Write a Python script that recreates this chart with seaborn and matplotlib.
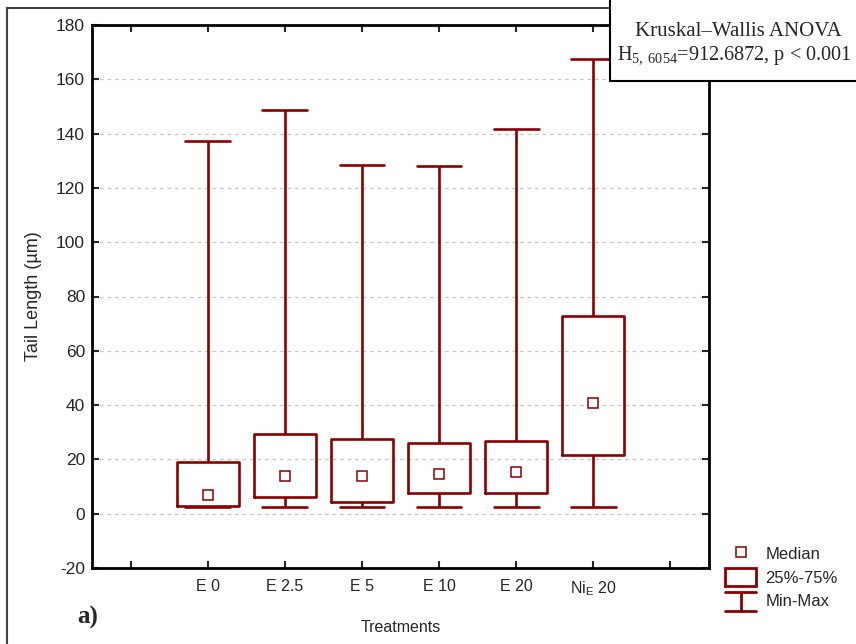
import numpy as np
import pandas as pd
import seaborn as sns
import matplotlib.pyplot as plt
from matplotlib.patches import Rectangle
from matplotlib.lines import Line2D
from matplotlib.legend_handler import HandlerBase

# summary values (min, q1, median, q3, max)
groups = ["E 0", "E 2.5", "E 5", "E 10", "E 20", "Ni$_\\mathregular{E}$ 20"]
mins = [2.5, 2.5, 2.5, 2.5, 2.5, 2.5]
q1 = [2.7, 6.0, 4.2, 7.8, 7.8, 21.5]
medians = [7.0, 14.0, 14.0, 14.6, 15.5, 40.8]
q3 = [19.0, 29.5, 27.6, 26.0, 26.6, 72.9]
maxs = [137.4, 148.8, 128.5, 128.0, 141.6, 167.5]

# empty slots left and right of the treatments, as on the original axis
order = [""] + groups + [" "]
tick_labels = [""] + groups + [""]

red = "#8b0000"

# five points per group -> quartiles and whiskers land exactly on the summary values
rows = []
for g, a, b, c, d, e in zip(groups, mins, q1, medians, q3, maxs):
    for v in (a, b, c, d, e):
        rows.append({"group": g, "value": v})
df = pd.DataFrame(rows)

sns.set_style("ticks")
plt.rcParams["font.family"] = ["Liberation Sans", "DejaVu Sans"]
plt.rcParams["axes.unicode_minus"] = False
plt.rcParams["mathtext.fontset"] = "custom"
plt.rcParams["mathtext.rm"] = "Liberation Serif"
plt.rcParams["mathtext.it"] = "Liberation Serif:italic"

fig = plt.figure(figsize=(8.56, 6.44), dpi=100)
ax = fig.add_axes([92 / 856, 1 - 568 / 644, 617 / 856, 543 / 644])

sns.boxplot(data=df, x="group", y="value", order=order, whis=(0, 100),
            fill=False, color=red, linecolor=red, linewidth=1.9, width=0.8,
            showfliers=False, capwidths=0.58,
            medianprops=dict(visible=False), ax=ax)

sns.pointplot(data=df, x="group", y="value", order=order, estimator="median",
              errorbar=None, markers="s", linestyles="none", color=red,
              markersize=6.5, markeredgewidth=1.1, markerfacecolor="white",
              ax=ax)

ax.set_ylim(-20, 180)
ax.set_xlim(-0.5, len(order) - 0.5)
ax.set_yticks(np.arange(-20, 181, 20))
ax.set_xticks(range(len(order)))
ax.set_xticklabels(tick_labels, fontsize=11.5)
ax.tick_params(axis="y", labelsize=12.5)
ax.tick_params(direction="in", length=5, width=1.5, top=True, right=True,
               pad=5)
ax.tick_params(axis="x", pad=8)
ax.yaxis.grid(True, color="#c8c8c8", linestyle=(0, (3, 3)), linewidth=0.9)
ax.set_axisbelow(True)
for s in ax.spines.values():
    s.set_visible(True)
    s.set_linewidth(2)
    s.set_color("black")

ax.set_xlabel("Treatments", fontsize=11.5, labelpad=16)
ax.set_ylabel("Tail Length (µm)", fontsize=13, labelpad=10)

# outer frame of the figure (only top and left visible in the crop)
fig.patches.append(Rectangle((7 / 856, -0.2), 1.2, 1.2 - 8 / 644,
                             transform=fig.transFigure, fill=False,
                             edgecolor="#404040", linewidth=1.5))

# statistics box in the top-right corner
fig.patches.append(Rectangle((610 / 856, 1 - 81 / 644), 0.4, 0.2,
                             transform=fig.transFigure, facecolor="white",
                             edgecolor="black", linewidth=1.5, zorder=5))
fig.text(738 / 856, 1 - 31 / 644, "Kruskal\u2013Wallis ANOVA",
         family="Liberation Serif", fontsize=15, ha="center", va="center",
         zorder=6)
fig.text(734 / 856, 1 - 56 / 644,
         "H$_{5,\\ 6054}$=912.6872, p < 0.001",
         family="Liberation Serif", fontsize=14.6, ha="center", va="center",
         zorder=6)

fig.text(77 / 856, 1 - 617 / 644, "a)", family="Liberation Serif",
         fontweight="bold", fontsize=18, ha="left", va="center")


class MinMaxHandler(HandlerBase):
    def create_artists(self, legend, orig_handle, xdescent, ydescent,
                       width, height, fontsize, trans):
        x0, x1 = -xdescent, -xdescent + width
        y0, y1 = -ydescent - 1, -ydescent + height
        xm = (x0 + x1) / 2
        kw = dict(color=red, linewidth=2, transform=trans)
        return [Line2D([x0, x1], [y1, y1], **kw),
                Line2D([x0, x1], [y0, y0], **kw),
                Line2D([xm, xm], [y0, y1], **kw)]


median_h = Line2D([], [], marker="s", linestyle="none", markersize=6.5,
                  markerfacecolor="white", markeredgecolor=red,
                  markeredgewidth=1.1)
box_h = Rectangle((0, 0), 1, 1, facecolor="white", edgecolor=red,
                  linewidth=2)
minmax_h = object()
fig.legend([median_h, box_h, minmax_h], ["Median", "25%-75%", "Min-Max"],
           handler_map={object: MinMaxHandler()},
           loc="upper left", bbox_to_anchor=(713 / 856, 1 - 533 / 644),
           frameon=False, fontsize=12, handlelength=1.9, handleheight=1.2,
           handletextpad=0.55, labelspacing=0.4, borderpad=0.2)

fig.savefig("out.png", dpi=100)
